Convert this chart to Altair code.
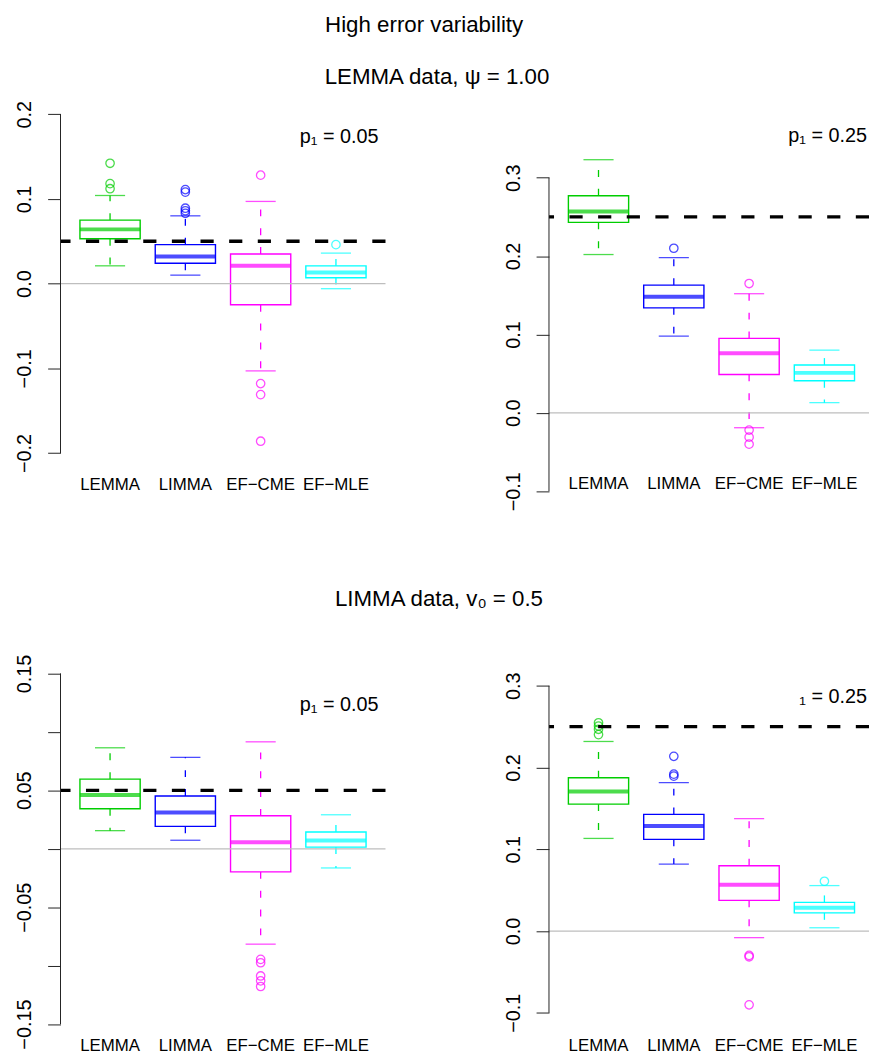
import altair as alt
import pandas as pd

FONT = "Liberation Sans"

methods = ["LEMMA", "LIMMA", "EF\u2212CME", "EF\u2212MLE"]
colors = ["#00CD00", "#0000FF", "#FF00FF", "#00FFFF"]

main_title = "High error variability"
row_titles = ["LEMMA data, \u03c8 = 1.00", "LIMMA data, v\u2080 = 0.5"]
panel_labels = ["p\u2081 = 0.05", "p\u2081 = 0.25", "p\u2081 = 0.05", "\u2081 = 0.25"]
p1_values = [0.05, 0.25, 0.05, 0.25]

# Panel A: LEMMA data, p1 = 0.05
a_low = [0.021, 0.010, -0.103, -0.006]
a_q1 = [0.053, 0.024, -0.025, 0.007]
a_med = [0.064, 0.032, 0.021, 0.013]
a_q3 = [0.075, 0.046, 0.035, 0.021]
a_high = [0.104, 0.080, 0.097, 0.036]
a_out = [[0.142, 0.118, 0.112],
         [0.111, 0.108, 0.089, 0.086, 0.083],
         [0.128, -0.118, -0.131, -0.186],
         [0.046]]
a_ticks = [-0.2, -0.1, 0.0, 0.1, 0.2]

# Panel B: LEMMA data, p1 = 0.25
b_low = [0.202, 0.098, -0.019, 0.013]
b_q1 = [0.243, 0.134, 0.049, 0.041]
b_med = [0.257, 0.148, 0.076, 0.051]
b_q3 = [0.277, 0.163, 0.095, 0.061]
b_high = [0.323, 0.198, 0.152, 0.080]
b_out = [[],
         [0.210],
         [0.165, -0.022, -0.031, -0.040],
         []]
b_ticks = [-0.1, 0.0, 0.1, 0.2, 0.3]

# Panel C: LIMMA data, p1 = 0.05
c_low = [0.0155, 0.0073, -0.0816, -0.0164]
c_q1 = [0.0342, 0.0192, -0.0198, 0.0014]
c_med = [0.0460, 0.0311, 0.0056, 0.0071]
c_q3 = [0.0596, 0.0452, 0.0282, 0.0144]
c_high = [0.0864, 0.0782, 0.0915, 0.0291]
c_out = [[],
         [],
         [-0.0946, -0.0975, -0.1088, -0.1130, -0.1178],
         []]
c_ticks = [-0.15, -0.10, -0.05, 0.0, 0.05, 0.10, 0.15]

# Panel D: LIMMA data, p1 = 0.25
d_low = [0.1133, 0.0819, -0.0081, 0.0040]
d_q1 = [0.1552, 0.1121, 0.0375, 0.0222]
d_med = [0.1706, 0.1286, 0.0565, 0.0286]
d_q3 = [0.1875, 0.1427, 0.0798, 0.0351]
d_high = [0.2319, 0.1815, 0.1375, 0.0556]
d_out = [[0.2548, 0.2508, 0.2468, 0.2403],
         [0.2137, 0.1919, 0.1895],
         [-0.0298, -0.0315, -0.0903],
         [0.0609]]
d_ticks = [-0.1, 0.0, 0.1, 0.2, 0.3]

color_scale = alt.Scale(domain=methods, range=colors)


def panel(low, q1, med, q3, high, outs, p1, ticks, domain, fmt, label_text,
          label_x, label_y, width, height, pad_outer, align, x_offset,
          label_expr=None, headings=None):
    stats = pd.DataFrame({"method": methods, "low": low, "q1": q1, "med": med,
                          "q3": q3, "high": high})
    rows = [(m, v) for m, vals in zip(methods, outs) for v in vals]
    outdf = pd.DataFrame(rows, columns=["method", "value"])
    ref = pd.DataFrame({"p1": [p1], "zero": [0.0], "lo": [ticks[0]],
                        "hi": [ticks[-1]]})

    xscale = alt.Scale(domain=methods, paddingInner=0.2,
                       paddingOuter=pad_outer, align=align)
    xaxis = alt.Axis(title=None, domain=False, ticks=False, tickSize=0,
                     labelAngle=0, labelFont=FONT, labelFontSize=17,
                     labelColor="black", labelPadding=0,
                     labelBaseline="middle", offset=x_offset, grid=False)
    X = alt.X("method:N", scale=xscale, axis=xaxis, sort=methods)

    yscale = alt.Scale(domain=domain, nice=False, zero=False)
    axis_kw = dict(title=None, values=ticks, domain=False, tickSize=13,
                   tickColor="#222", tickWidth=1, labelAngle=270,
                   labelAlign="center", labelBaseline="alphabetic",
                   labelPadding=17, labelFont=FONT, labelFontSize=20,
                   labelColor="black", grid=False, format=fmt,
                   labelOverlap=False, labelFlush=False)
    if label_expr:
        axis_kw["labelExpr"] = label_expr
    yaxis = alt.Axis(**axis_kw)

    def Y(field):
        return alt.Y(field, type="quantitative", scale=yscale, axis=yaxis)

    C = alt.Color("method:N", scale=color_scale, legend=None)
    S = alt.Stroke("method:N", scale=color_scale, legend=None)

    base = alt.Chart(stats)
    boxes = base.mark_bar(fill="white", strokeWidth=1.4).encode(
        x=X, y=Y("q1"), y2="q3", stroke=S)
    whisk_up = base.mark_rule(strokeWidth=1.3, strokeDash=[7, 12]).encode(
        x=X, y=Y("q3"), y2="high", color=C)
    whisk_lo = base.mark_rule(strokeWidth=1.3, strokeDash=[7, 12]).encode(
        x=X, y=Y("q1"), y2="low", color=C)
    cap_up = base.mark_tick(size=30.4, thickness=1.3).encode(
        x=X, y=Y("high"), color=C)
    cap_lo = base.mark_tick(size=30.4, thickness=1.3).encode(
        x=X, y=Y("low"), color=C)
    medians = base.mark_tick(size=60.8, thickness=4).encode(
        x=X, y=Y("med"), color=C)
    points = alt.Chart(outdf).mark_point(shape="circle", filled=False,
                                         size=72, strokeWidth=1.3).encode(
        x=X, y=Y("value"), color=C)

    rbase = alt.Chart(ref)
    zero = rbase.mark_rule(color="#BEBEBE", strokeWidth=1.3).encode(y=Y("zero"))
    dashed = rbase.mark_rule(color="black", strokeWidth=3.3,
                             strokeDash=[13.3, 15.6]).encode(y=Y("p1"))
    axis_line = rbase.mark_rule(color="#222", strokeWidth=1).encode(
        x=alt.value(0), y=Y("lo"), y2="hi")
    label = rbase.mark_text(align="right", baseline="middle", font=FONT,
                            fontSize=20, color="black").encode(
        x=alt.value(label_x), y=alt.value(label_y), text=alt.value(label_text))

    layers = [boxes, whisk_up, whisk_lo, cap_up, cap_lo, medians]
    if len(outdf):
        layers.append(points)
    layers += [zero, dashed, axis_line, label]
    for text, hx, hy, fs in (headings or []):
        layers.append(rbase.mark_text(align="center", baseline="middle",
                                      font=FONT, fontSize=fs,
                                      color="black").encode(
            x=alt.value(hx), y=alt.value(hy), text=alt.value(text)))
    return alt.layer(*layers).properties(width=width, height=height)


LW, RW = 328, 323
H1, H2 = 395, 380

pA = panel(a_low, a_q1, a_med, a_q3, a_high, a_out, p1_values[0], a_ticks,
           [-0.2499, 0.2120], ".1f", panel_labels[0], 321, 33, LW, H1,
           0.258, 0.5, -11,
           headings=[(main_title, 367, -80, 22.5),
                     (row_titles[0], 380, -27, 22.5)])
pB = panel(b_low, b_q1, b_med, b_q3, b_high, b_out, p1_values[1], b_ticks,
           [-0.1053, 0.3941], ".1f", panel_labels[1], 321, 32, RW, H1,
           0.225, 0.573, -12)
pC = panel(c_low, c_q1, c_med, c_q3, c_high, c_out, p1_values[2], c_ticks,
           [-0.1596, 0.1625], ".2f", panel_labels[2], 321, 47, LW, H2,
           0.258, 0.5, 10,
           label_expr="round(datum.value*100) % 10 != 0 ? datum.label : ''",
           headings=[(row_titles[1], 382, -60, 22.5)])
pD = panel(d_low, d_q1, d_med, d_q3, d_high, d_out, p1_values[3], d_ticks,
           [-0.1276, 0.3330], ".1f", panel_labels[3], 321, 39, RW, H2,
           0.225, 0.573, 10)

chart = alt.concat(pA, pB, pC, pD, columns=2, spacing=165, bounds="flush",
                   align="each").properties(
    autosize=alt.AutoSizeParams(type="none"),
    padding={"left": 53, "top": 92, "right": 816, "bottom": 959}
).configure(font=FONT).configure_view(strokeWidth=0, stroke="transparent")

chart.save("out.html", embed_options={"renderer": "svg", "actions": False})
